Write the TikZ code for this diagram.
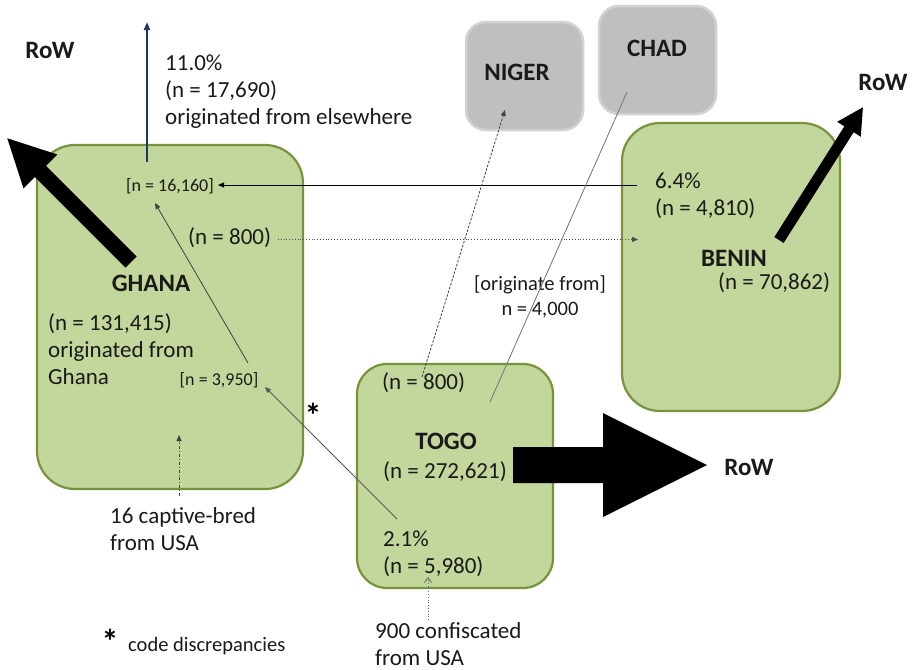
\documentclass[tikz,border=0pt]{standalone}
\usepackage{fontspec}
\setmainfont{Carlito}
\usetikzlibrary{arrows.meta}
\definecolor{gfill}{HTML}{C3D69B}
\definecolor{gline}{HTML}{77933C}
\definecolor{grayfill}{HTML}{BFBFBF}
\definecolor{grayline}{HTML}{D2D2D2}
\definecolor{navy}{HTML}{1F3A5C}
\definecolor{txtcol}{HTML}{1A1A1A}
\begin{document}
\begin{tikzpicture}[x=1pt,y=-1pt,
  greenbox/.style={draw=gline, fill=gfill, line width=2.2pt, rounded corners=38pt, inner sep=0pt},
  smallgreenbox/.style={greenbox, rounded corners=30pt},
  graybox/.style={draw=grayline, fill=grayfill, line width=2.5pt, rounded corners=20pt, inner sep=0pt},
  txt/.style={font=\fontsize{23}{27}\selectfont, inner sep=0pt, text=txtcol, align=left},
  boldtxt/.style={font=\fontsize{25}{30}\selectfont\bfseries, inner sep=0pt, text=txtcol},
  smalltxt/.style={font=\fontsize{18}{22}\selectfont, inner sep=0pt, text=txtcol},
  startxt/.style={font=\fontsize{34}{34}\selectfont\bfseries, inner sep=0pt},
  thinline/.style={line width=0.8pt},
  tiparrow/.style={-{Triangle[length=6pt,width=5pt]}},
  openarrow/.style={-{Straight Barb[length=5pt,width=7pt]}},
]
\useasboundingbox (0,0) rectangle (914,670);
\fill[white] (0,0) rectangle (914,670);

% boxes
\node[greenbox, minimum width=266pt, minimum height=344pt] (ghana) at (170,317) {};
\node[greenbox, minimum width=218pt, minimum height=288pt] (benin) at (731,267) {};
\node[smallgreenbox, minimum width=196pt, minimum height=224pt] (togo) at (455,476) {};
\node[graybox, minimum width=117pt, minimum height=108pt] (niger) at (524.5,76) {};
\node[graybox, minimum width=117pt, minimum height=108pt] (chad) at (657.5,60) {};

% big arrows
\fill[black, shift={(131,262)}, rotate=135]
  (0,-7.8) -- (128,-7.8) -- (128,-24) -- (175,0) -- (128,24) -- (128,7.8) -- (0,7.8) -- cycle;
\fill[black, shift={(779,240)}, rotate=57.7]
  (0,-5.5) -- (131,-5.5) -- (131,-14) -- (157,0) -- (131,14) -- (131,5.5) -- (0,5.5) -- cycle;
\fill[black] (513,447) -- (603,447) -- (603,413) -- (707,465) -- (603,517) -- (603,483) -- (513,483) -- cycle;

% texts
\node[boldtxt] (rowL) at (50,50) {RoW};
\node[boldtxt] (rowR) at (883,82) {RoW};
\node[boldtxt] (rowT) at (749,467) {RoW};
\node[txt, anchor=west] (elsewhere) at (165,92) {11.0\%\\(n = 17,690)\\originated from elsewhere};
\node[smalltxt] (n16160) at (170,186) {[n = 16,160]};
\node[txt, anchor=west] (n800g) at (188,238) {(n = 800)};
\node[boldtxt] (ghanaT) at (151,283) {GHANA};
\node[txt, anchor=west] (ghanaN) at (48,349) {(n = 131,415)\\originated from\\Ghana};
\node[smalltxt] (n3950) at (219,380) {[n = 3,950]};
\node[startxt] (star1) at (313,415) {*};
\node[txt, anchor=west] (captive) at (110,529) {16 captive-bred\\from USA};
\node[startxt] (star2) at (110,641) {*};
\node[font=\fontsize{20.5}{24}\selectfont, inner sep=0pt, anchor=west, text=txtcol] (code) at (128,646) {code discrepancies};
\node[boldtxt] (nigerT) at (517,72) {NIGER};
\node[boldtxt] (chadT) at (657,48) {CHAD};
\node[font=\fontsize{20.5}{25}\selectfont, inner sep=0pt, align=center, text=txtcol] (orig) at (540,297) {[originate from]\\n = 4,000};
\node[txt, anchor=west] (n800t) at (382,383) {(n = 800)};
\node[boldtxt] (togoT) at (446,441) {TOGO};
\node[txt, anchor=west] (togoN) at (383,472) {(n = 272,621)};
\node[txt, anchor=west] (togo21) at (383,554) {2.1\%\\(n = 5,980)};
\node[txt, anchor=west] (conf) at (375,644) {900 confiscated\\from USA};
\node[txt, anchor=west] (benin64) at (655,196) {6.4\%\\(n = 4,810)};
\node[boldtxt] (beninT) at (734,258) {BENIN};
\node[txt, anchor=west] (beninN) at (718,283) {(n = 70,862)};

% connector end points
\coordinate (upS) at (147,162);
\coordinate (upE) at (147,22);
\coordinate (b64S) at (637,185);
\coordinate (n16E) at (218,185);
\coordinate (d800S) at (278,239.5);
\coordinate (d800E) at (638,239.5);
\coordinate (n39S) at (248,363);
\coordinate (n16E2) at (155,203);
\coordinate (t21S) at (397,519);
\coordinate (n39E) at (265,387);
\coordinate (capS) at (179,496);
\coordinate (capE) at (179,435);
\coordinate (t800S) at (422,377);
\coordinate (nigE) at (505,110);
\coordinate (tchS) at (490,402);
\coordinate (chE) at (627,92);
\coordinate (confS) at (428,620);
\coordinate (confE) at (428,577);

% connectors
\draw[navy, line width=2pt, -{Triangle[length=8pt,width=6pt]}] (upS) -- (upE);
\draw[black, thinline, tiparrow] (b64S) -- (n16E);
\draw[black!70, thinline, dotted, tiparrow] (d800S) -- (d800E);
\draw[black!75, thinline, tiparrow] (n39S) -- (n16E2);
\draw[black!65, thinline, tiparrow] (t21S) -- (n39E);
\draw[black!75, thinline, dash dot, tiparrow] (capS) -- (capE);
\draw[black!75, thinline, dash pattern=on 2.5pt off 1.5pt, tiparrow] (t800S) -- (nigE);
\draw[black!55, thinline] (tchS) -- (chE);
\draw[black!60, thinline, dotted, openarrow] (confS) -- (confE);
\end{tikzpicture}
\end{document}
